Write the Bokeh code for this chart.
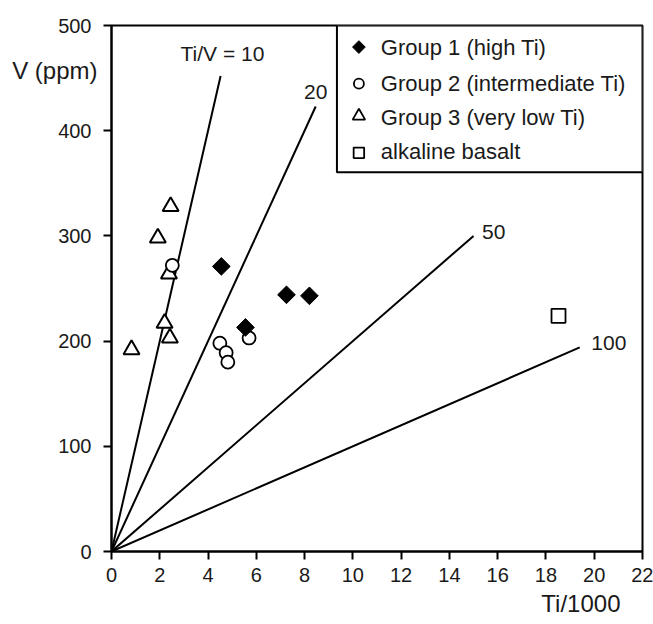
from bokeh.plotting import figure
from bokeh.models import Range1d, FixedTicker, ColumnDataSource, LinearAxis, Title
from bokeh.core.properties import value
from bokeh.embed import file_html
from bokeh.resources import INLINE
import math

FONT = "Liberation Sans"

# --- data -------------------------------------------------------------
g1_ti = [4.55, 7.25, 8.2, 5.55]
g1_v = [271, 244, 243, 213]

g2_ti = [2.52, 4.49, 4.75, 4.82, 5.7]
g2_v = [272, 198, 189, 180, 203]

g3_ti = [2.45, 1.92, 2.38, 0.83, 2.2, 2.42]
g3_v = [328, 298, 264, 192, 217, 203]

alk_ti = [18.52]
alk_v = [224]

ratios = [10, 20, 50, 100]
ratio_v_end = [452, 423, 300, 194]
ratio_labels = ["Ti/V = 10", "20", "50", "100"]
ratio_label_x = [2.86, 7.98, 15.35, 19.88]
ratio_label_y = [473, 437, 304, 198]

x_ticks = [0, 2, 4, 6, 8, 10, 12, 14, 16, 18, 20, 22]
y_ticks = [0, 100, 200, 300, 400, 500]

legend_labels = ["Group 1 (high Ti)", "Group 2 (intermediate Ti)",
                 "Group 3 (very low Ti)", "alkaline basalt"]

# --- figure -----------------------------------------------------------
p = figure(frame_width=531, frame_height=526,
           min_border_left=111, min_border_right=11,
           min_border_top=25, min_border_bottom=73,
           x_range=Range1d(0, 22), y_range=Range1d(0, 500),
           output_backend="svg", toolbar_location=None)

p.grid.visible = False
p.outline_line_color = "black"
p.outline_line_width = 2
p.background_fill_color = "white"
p.border_fill_color = "white"

for ax, ticks, standoff in ((p.xaxis[0], x_ticks, 8), (p.yaxis[0], y_ticks, 12)):
    ax.ticker = FixedTicker(ticks=ticks)
    ax.axis_line_width = 2
    ax.axis_line_color = "black"
    ax.major_tick_line_width = 2
    ax.major_tick_line_color = "black"
    ax.major_tick_out = 8
    ax.major_tick_in = 0
    ax.minor_tick_out = 0
    ax.minor_tick_in = 0
    ax.major_label_text_font = FONT
    ax.major_label_text_font_size = "20px"
    ax.major_label_text_color = "#1a1a1a"
    ax.major_label_standoff = standoff

# y-axis title, horizontal, near the top of the axis (an outer label-only axis)
y_title_axis = LinearAxis(ticker=FixedTicker(ticks=[457]),
                          major_label_overrides={457: "V (ppm)"},
                          axis_line_color=None, major_tick_line_color=None,
                          minor_tick_line_color=None,
                          major_tick_out=0, major_tick_in=0,
                          minor_tick_out=0, minor_tick_in=0,
                          major_label_standoff=-42,
                          major_label_text_font=FONT,
                          major_label_text_font_size="24px",
                          major_label_text_color="#1a1a1a")
p.add_layout(y_title_axis, "left")

# x-axis title, right-aligned below the axis
p.add_layout(Title(text="Ti/1000", align="right", offset=22, standoff=6,
                   text_font=FONT, text_font_size="24px",
                   text_font_style="normal", text_color="#1a1a1a"), "below")

# ratio lines Ti/V = const  (Ti/1000 = V * ratio / 1000)
x_end = [v * r / 1000.0 for v, r in zip(ratio_v_end, ratios)]
p.segment(x0=[0] * len(ratios), y0=[0] * len(ratios), x1=x_end, y1=ratio_v_end,
          line_color="black", line_width=2)

lab_src = ColumnDataSource(dict(x=ratio_label_x, y=ratio_label_y, t=ratio_labels))
p.text(x="x", y="y", text="t", source=lab_src, text_font=value(FONT),
       text_font_size=value("21px"), text_align="left", text_baseline="middle",
       text_color="#1a1a1a")

# data points
p.scatter(g3_ti, g3_v, marker="triangle", size=16, fill_color="white",
          line_color="black", line_width=2)
p.scatter(g2_ti, g2_v, marker="circle", size=13, fill_color="white",
          line_color="black", line_width=1.8)
p.scatter(g1_ti, g1_v, marker="square", angle=math.pi / 4, size=12.5,
          fill_color="black", line_color="black", line_width=1)
p.scatter(alk_ti, alk_v, marker="square", size=14, fill_color="white",
          line_color="black", line_width=1.8)

# legend box (top-right corner, drawn in data coordinates)
lg_left, lg_bottom = 9.34, 360.6
p.quad(left=[lg_left], right=[22], bottom=[lg_bottom], top=[500],
       fill_color="white", line_color="black", line_width=2)
row_y = [479.5, 444.7, 413.0, 380.0]
mk_x = 10.25
txt_x = 11.16
p.scatter([mk_x], [row_y[0]], marker="square", angle=math.pi / 4, size=9,
          fill_color="black", line_color="black", line_width=1)
p.scatter([mk_x], [row_y[1]], marker="circle", size=10, fill_color="white",
          line_color="black", line_width=1.8)
p.scatter([mk_x], [row_y[2] + 1], marker="triangle", size=12.5, fill_color="white",
          line_color="black", line_width=1.8)
p.scatter([mk_x], [row_y[3] - 1], marker="square", size=10.5, fill_color="white",
          line_color="black", line_width=1.8)
leg_src = ColumnDataSource(dict(x=[txt_x] * 4, y=row_y, t=legend_labels))
p.text(x="x", y="y", text="t", source=leg_src, text_font=value(FONT),
       text_font_size=value("22px"), text_align="left", text_baseline="middle",
       text_color="#1a1a1a")

open("out.html", "w").write(file_html(p, INLINE))
